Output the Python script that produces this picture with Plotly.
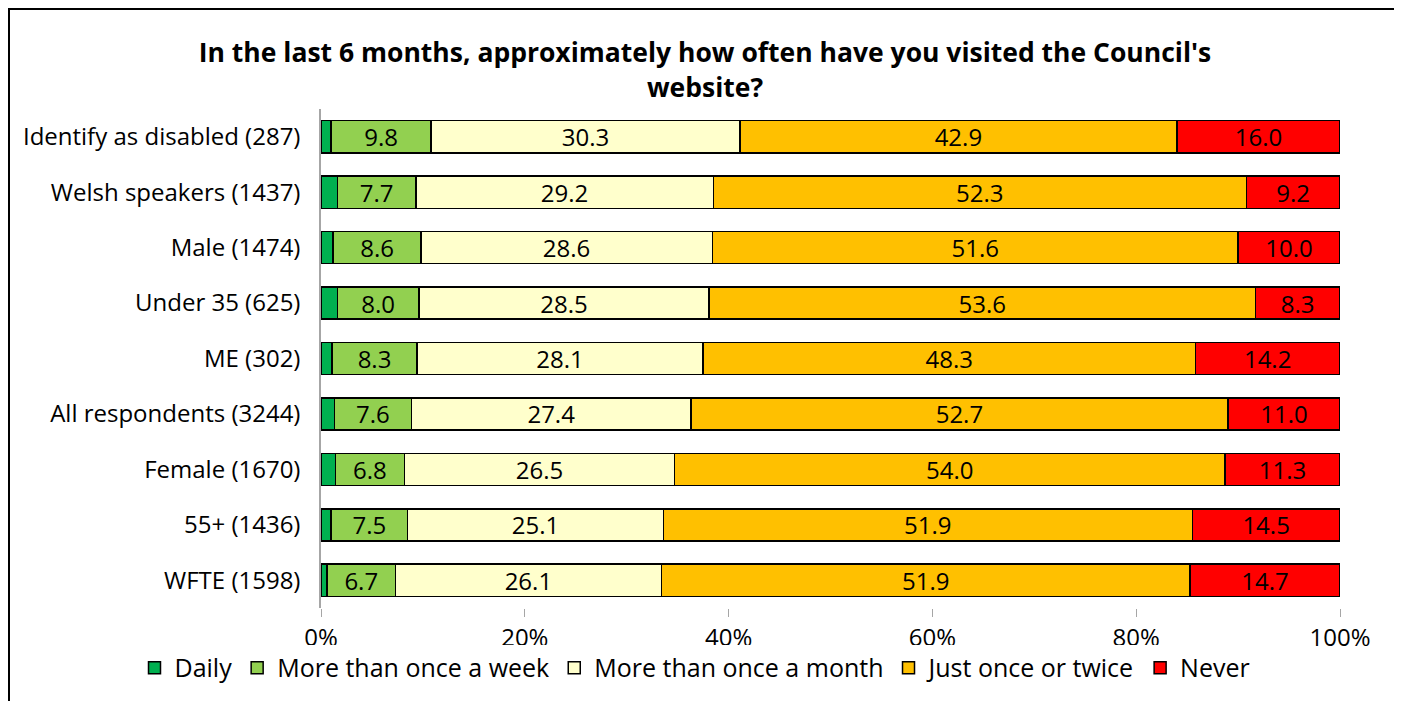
import plotly.graph_objects as go

BLACK = "#000000"
GREY = "#a6a6a6"
FONT = "Open Sans"
W, H = 1394, 693

groups = ["Identify as disabled (287)", "Welsh speakers (1437)", "Male (1474)",
          "Under 35 (625)", "ME (302)", "All respondents (3244)", "Female (1670)",
          "55+ (1436)", "WFTE (1598)"]

daily = [1.0, 1.6, 1.2, 1.6, 1.1, 1.3, 1.4, 1.0, 0.6]
weekly = [9.8, 7.7, 8.6, 8.0, 8.3, 7.6, 6.8, 7.5, 6.7]
monthly = [30.3, 29.2, 28.6, 28.5, 28.1, 27.4, 26.5, 25.1, 26.1]
once_twice = [42.9, 52.3, 51.6, 53.6, 48.3, 52.7, 54.0, 51.9, 51.9]
never = [16.0, 9.2, 10.0, 8.3, 14.2, 11.0, 11.3, 14.5, 14.7]

series = [
    ("Daily", daily, "#00b050", False),
    ("More than once a week", weekly, "#92d050", True),
    ("More than once a month", monthly, "#ffffcc", True),
    ("Just once or twice", once_twice, "#ffc000", True),
    ("Never", never, "#ff0000", True),
]

fig = go.Figure()
for name, vals, col, lab in series:
    fig.add_trace(go.Bar(
        y=groups, x=vals, name=name, orientation="h",
        marker=dict(color=col, line=dict(color=BLACK, width=1.5)),
        text=[f"{v:.1f}" for v in vals] if lab else None,
        textposition="inside" if lab else "none",
        insidetextanchor="middle", textangle=0, constraintext="none",
        textfont=dict(size=24, color=BLACK, family=FONT),
    ))

# outer chart border
fig.add_shape(type="rect", xref="paper", yref="paper",
              x0=1 / W, x1=1387 / W, y0=-0.2, y1=1.2004,
              line=dict(color=BLACK, width=2), fillcolor="rgba(0,0,0,0)")

fig.update_layout(
    barmode="stack", bargap=0.42,
    width=W, height=H,
    paper_bgcolor="white", plot_bgcolor="white",
    font=dict(family=FONT, size=24, color=BLACK),
    margin=dict(l=0, r=0, t=101, b=93),
    title=dict(text="<b>In the last 6 months, approximately how often have you visited the Council's<br>website?</b>",
               x=0.5, xref="container", xanchor="center", y=0.922, yanchor="middle",
               font=dict(size=26.5, family=FONT, color=BLACK)),
    legend=dict(orientation="h", x=687 / W, xanchor="center", y=-0.12, yanchor="middle",
                font=dict(size=25, family=FONT), traceorder="normal",
                itemwidth=30),
    showlegend=True,
)
fig.update_xaxes(range=[0, 100], domain=[313 / W, 1332 / W],
                 tickvals=[0, 20, 40, 60, 80, 100],
                 ticktext=["0%", "20%", "40%", "60%", "80%", "100%"],
                 ticks="outside", ticklen=8, tickcolor=GREY, showgrid=False,
                 showline=False, zeroline=False, tickfont=dict(size=24),
                 automargin=False)
fig.update_yaxes(autorange="reversed", showline=True, linecolor=GREY, linewidth=1.5,
                 ticks="", showgrid=False, ticklabelstandoff=14,
                 tickfont=dict(size=24), automargin=False)

fig.write_html("out.html")
